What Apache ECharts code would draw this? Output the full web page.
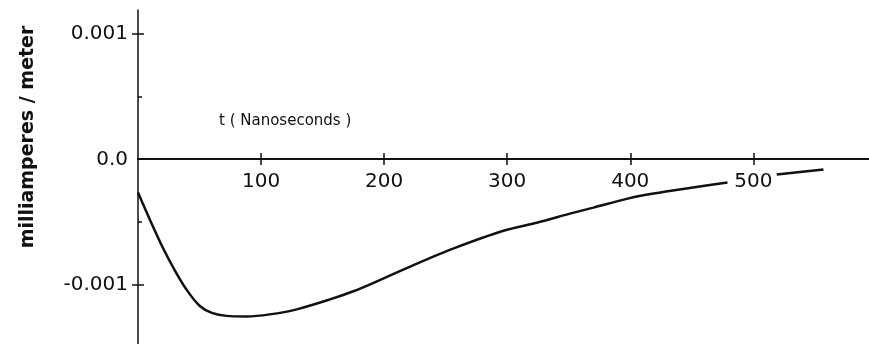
<!DOCTYPE html>
<html>
<head>
<meta charset="utf-8">
<script src="https://cdn.jsdelivr.net/npm/echarts@6/dist/echarts.min.js"></script>
<style>html,body{margin:0;padding:0;background:#fff}#c{width:869px;height:344px}</style>
</head>
<body>
<div id="c"></div>
<script>
// Time in nanoseconds
var tValues = [0, 10, 20, 30, 40, 50, 60, 72, 88, 107, 129, 156, 175, 191, 229, 256, 297, 324, 351, 370, 398, 419, 451, 479, 500, 519, 557];
// Current in milliamperes / meter (null = gap hidden behind the "500" label)
var currentValues = [-0.000264, -0.000488, -0.0007, -0.000885, -0.001045, -0.001165, -0.001222, -0.001246, -0.00125, -0.001234, -0.001194, -0.001115, -0.00105, -0.000985, -0.00082, -0.00071, -0.000568, -0.000504, -0.000432, -0.000384, -0.000312, -0.000272, -0.000224, -0.000184, null, -0.00012, -0.00008];
var xTicks = [100, 200, 300, 400, 500];
var yMajorTicks = [-0.001, 0.001];
var yMinorTicks = [-0.0005, 0.0005];
var yLabels = [-0.001, 0, 0.001];

var xMin = 0, xMax = 594, yMin = -0.00147, yMax = 0.00119;
var ink = '#111';
var data = tValues.map(function (t, i) { return [t, currentValues[i]]; });

var chart = echarts.init(document.getElementById('c'));
chart.setOption({
  animation: false,
  backgroundColor: '#fff',
  grid: { left: 138, right: 0, top: 10, bottom: 0, outerBoundsMode: 'none', containLabel: false },
  title: {
    text: 't ( Nanoseconds )', left: 214, top: 109,
    textStyle: { fontFamily: 'DejaVu Sans', fontSize: 15, fontWeight: 'normal', color: ink }
  },
  graphic: [{
    type: 'text', x: 28, y: 137, rotation: Math.PI / 2,
    style: { text: 'milliamperes / meter', font: 'bold 19px "DejaVu Sans"', fill: ink, align: 'center', verticalAlign: 'middle' }
  }],
  xAxis: [{
    type: 'value', min: xMin, max: xMax, position: 'bottom', offset: -185,
    axisLine: { onZero: false, lineStyle: { color: ink, width: 2 } },
    axisTick: { show: true, inside: false, length: 6, customValues: xTicks, lineStyle: { color: ink, width: 1.5 } },
    axisLabel: { customValues: xTicks, margin: 13, fontFamily: 'DejaVu Sans', fontSize: 20, color: ink },
    splitLine: { show: false }
  }, {
    type: 'value', min: xMin, max: xMax, position: 'bottom', offset: -185,
    axisLine: { show: false, onZero: false },
    axisTick: { show: true, inside: true, length: 6, customValues: xTicks, lineStyle: { color: ink, width: 1.5 } },
    axisLabel: { show: false },
    splitLine: { show: false }
  }],
  yAxis: [{
    type: 'value', min: yMin, max: yMax, position: 'left',
    axisLine: { show: true, onZero: false, lineStyle: { color: ink, width: 1.5 } },
    axisTick: { show: true, inside: false, length: 6, customValues: yMajorTicks, lineStyle: { color: ink, width: 1.5 } },
    axisLabel: {
      customValues: yLabels, margin: 10, fontFamily: 'DejaVu Sans', fontSize: 20, color: ink,
      formatter: function (v) { return Math.abs(v) < 1e-9 ? '0.0' : v.toFixed(3); }
    },
    splitLine: { show: false }
  }, {
    type: 'value', min: yMin, max: yMax, position: 'left',
    axisLine: { show: false, onZero: false },
    axisTick: { show: true, inside: true, length: 6, customValues: yMajorTicks, lineStyle: { color: ink, width: 1.5 } },
    axisLabel: { show: false },
    splitLine: { show: false }
  }, {
    type: 'value', min: yMin, max: yMax, position: 'left',
    axisLine: { show: false, onZero: false },
    axisTick: { show: true, inside: true, length: 4, customValues: yMinorTicks, lineStyle: { color: ink, width: 1.5 } },
    axisLabel: { show: false },
    splitLine: { show: false }
  }],
  series: [{
    type: 'line', xAxisIndex: 0, yAxisIndex: 0,
    data: data, smooth: 0.3, showSymbol: false, connectNulls: false,
    lineStyle: { color: ink, width: 2.5 }
  }]
});
</script>
</body>
</html>
